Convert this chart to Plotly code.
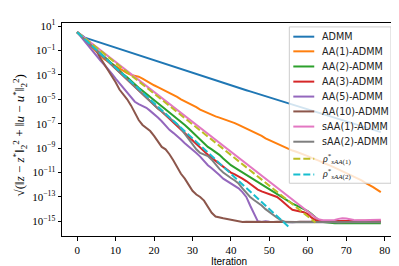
import plotly.graph_objects as go

iterations = list(range(80))

admm = [3.16, 1.78, 1.12, 8.83e-1, 6.95e-1, 5.47e-1, 4.31e-1, 3.39e-1, 2.67e-1, 2.10e-1,
        1.65e-1, 1.30e-1, 1.02e-1, 8.05e-2, 6.34e-2, 4.99e-2, 3.93e-2, 3.09e-2, 2.43e-2, 1.91e-2,
        1.51e-2, 1.19e-2, 9.33e-3, 7.35e-3, 5.78e-3, 4.55e-3, 3.58e-3, 2.82e-3, 2.22e-3, 1.75e-3,
        1.37e-3, 1.08e-3, 8.51e-4, 6.70e-4, 5.27e-4, 4.21e-4, 3.36e-4, 2.68e-4, 2.14e-4, 1.71e-4,
        1.36e-4, 1.09e-4, 8.69e-5, 6.93e-5, 5.53e-5, 4.42e-5, 3.52e-5, 2.81e-5, 2.24e-5, 1.79e-5,
        1.43e-5, 1.14e-5, 9.09e-6, 7.26e-6, 5.79e-6, 4.62e-6, 3.69e-6, 2.94e-6, 2.35e-6, 1.87e-6,
        1.49e-6, 1.19e-6, 9.52e-7, 7.60e-7, 6.06e-7, 4.84e-7, 3.86e-7, 3.08e-7, 2.46e-7, 1.96e-7,
        1.56e-7, 1.25e-7, 9.97e-8, 7.96e-8, 6.35e-8, 5.07e-8, 4.04e-8, 3.23e-8, 2.57e-8, 2.05e-8]

aa1 = [3.16, 1.41, 7.08e-1, 3.16e-1, 1.58e-1, 7.94e-2, 3.98e-2, 2.0e-2, 1.26e-2, 7.94e-3,
       5.01e-3, 3.16e-3, 2.0e-3, 1.41e-3, 1.0e-3, 8.91e-4, 7.08e-4, 5.01e-4, 3.16e-4, 2.0e-4,
       1.41e-4, 1.0e-4, 7.08e-5, 4.47e-5, 3.16e-5, 2.24e-5, 1.58e-5, 1.0e-5, 7.08e-6, 4.47e-6,
       3.16e-6, 2.24e-6, 1.41e-6, 1.0e-6, 7.08e-7, 5.01e-7, 3.98e-7, 3.16e-7, 2.51e-7, 2.0e-7,
       1.58e-7, 1.12e-7, 7.94e-8, 5.62e-8, 3.98e-8, 3.16e-8, 2.24e-8, 1.41e-8, 1.0e-8, 6.31e-9,
       4.47e-9, 3.16e-9, 2.24e-9, 1.58e-9, 1.12e-9, 7.94e-10, 6.31e-10, 5.01e-10, 3.98e-10, 3.16e-10,
       2.24e-10, 1.58e-10, 1.26e-10, 8.91e-11, 6.31e-11, 5.01e-11, 3.55e-11, 2.51e-11, 1.78e-11, 1.26e-11,
       1.0e-11, 7.08e-12, 5.01e-12, 3.55e-12, 2.24e-12, 1.41e-12, 1.0e-12, 6.31e-13, 3.98e-13, 2.51e-13]

aa2 = [3.16, 1.58, 7.94e-1, 3.98e-1, 2.24e-1, 1.12e-1, 5.62e-2, 3.16e-2, 1.58e-2, 7.94e-3,
       3.98e-3, 2.24e-3, 1.12e-3, 6.31e-4, 3.16e-4, 1.58e-4, 8.91e-5, 5.01e-5, 2.82e-5, 1.58e-5,
       7.94e-6, 4.47e-6, 2.51e-6, 1.41e-6, 7.94e-7, 4.47e-7, 2.51e-7, 1.41e-7, 7.94e-8, 3.98e-8,
       2.0e-8, 1.0e-8, 5.01e-9, 2.51e-9, 1.26e-9, 7.94e-10, 5.01e-10, 2.82e-10, 1.41e-10, 7.08e-11,
       3.98e-11, 2.51e-11, 1.58e-11, 1.0e-11, 6.31e-12, 4.47e-12, 2.82e-12, 1.78e-12, 1.12e-12, 7.08e-13,
       4.47e-13, 2.82e-13, 1.78e-13, 1.12e-13, 6.31e-14, 3.98e-14, 2.82e-14, 2.0e-14, 1.41e-14, 1.0e-14,
       7.08e-15, 3.98e-15, 2.0e-15, 1.12e-15, 8.91e-16, 7.94e-16, 7.2e-16, 6.9e-16, 7.3e-16, 7.0e-16,
       6.8e-16, 7.1e-16, 6.9e-16, 7.2e-16, 6.8e-16, 7.0e-16, 6.9e-16, 7.1e-16, 6.8e-16, 7.0e-16]

aa3 = [3.16, 1.58, 7.94e-1, 3.98e-1, 2.0e-1, 1.0e-1, 5.01e-2, 2.51e-2, 1.26e-2, 6.31e-3,
       3.16e-3, 1.58e-3, 7.94e-4, 3.98e-4, 2.0e-4, 1.0e-4, 5.01e-5, 2.51e-5, 1.26e-5, 6.31e-6,
       3.16e-6, 1.78e-6, 1.0e-6, 5.01e-7, 2.51e-7, 1.26e-7, 6.31e-8, 3.16e-8, 1.58e-8, 7.94e-9,
       3.98e-9, 2.0e-9, 1.0e-9, 5.01e-10, 2.82e-10, 1.58e-10, 8.91e-11, 5.01e-11, 3.16e-11, 1.78e-11,
       1.0e-11, 7.08e-12, 5.01e-12, 3.16e-12, 2.0e-12, 1.12e-12, 6.31e-13, 3.98e-13, 2.82e-13, 2.24e-13,
       1.78e-13, 1.41e-13, 1.0e-13, 5.62e-14, 2.82e-14, 1.58e-14, 8.91e-15, 7.08e-15, 6.31e-15, 5.62e-15,
       3.98e-15, 2.0e-15, 1.26e-15, 1.12e-15, 1.1e-15, 1.15e-15, 1.08e-15, 1.12e-15, 1.1e-15, 1.05e-15,
       1.12e-15, 1.1e-15, 1.08e-15, 1.12e-15, 1.1e-15, 1.1e-15, 1.12e-15, 1.08e-15, 1.1e-15, 1.1e-15]

aa5 = [3.16, 1.26, 5.01e-1, 2.0e-1, 7.94e-2, 3.55e-2, 1.58e-2, 7.08e-3, 3.16e-3, 1.26e-3,
       5.01e-4, 2.0e-4, 7.94e-5, 3.16e-5, 1.26e-5, 6.31e-6, 3.98e-6, 2.82e-6, 2.0e-6, 1.12e-6,
       6.31e-7, 3.16e-7, 1.58e-7, 7.08e-8, 3.16e-8, 1.78e-8, 1.0e-8, 5.01e-9, 2.51e-9, 1.41e-9,
       7.94e-10, 3.98e-10, 2.0e-10, 8.91e-11, 3.98e-11, 2.24e-11, 1.26e-11, 6.31e-12, 3.16e-12, 2.0e-12,
       1.26e-12, 7.94e-13, 5.01e-13, 2.51e-13, 1.0e-13, 2.0e-14, 3.98e-15, 1.0e-15, 8.9e-16, 1.0e-15,
       9.2e-16, 8.7e-16, 9.0e-16, 9.4e-16, 8.8e-16, 9.1e-16, 8.6e-16, 9.0e-16, 9.3e-16, 8.9e-16,
       8.7e-16, 9.1e-16, 8.8e-16, 9.0e-16, 8.5e-16, 8.9e-16, 9.2e-16, 8.8e-16, 8.6e-16, 9.0e-16,
       8.8e-16, 8.9e-16, 9.1e-16, 8.7e-16, 8.9e-16, 9.0e-16, 8.8e-16, 8.6e-16, 8.9e-16, 8.8e-16]

aa10 = [3.16, 1.78, 1.0, 5.01e-1, 2.51e-1, 1.0e-1, 2.51e-2, 7.94e-3, 3.16e-3, 1.0e-3,
        2.51e-4, 6.31e-5, 2.51e-5, 1.0e-5, 3.16e-6, 7.94e-7, 2.0e-7, 7.94e-8, 4.47e-8, 2.51e-8,
        1.0e-8, 3.16e-9, 1.26e-9, 7.94e-10, 3.16e-10, 1.0e-10, 2.82e-11, 7.94e-12, 3.16e-12, 1.0e-12,
        3.16e-13, 1.58e-13, 1.0e-13, 5.01e-14, 1.58e-14, 5.01e-15, 2.51e-15, 2.0e-15, 1.78e-15, 1.58e-15,
        1.41e-15, 1.26e-15, 1.0e-15, 8.91e-16, 9.2e-16, 9.0e-16, 9.3e-16, 8.8e-16, 9.1e-16, 8.7e-16,
        8.2e-16, 9.0e-16, 9.4e-16, 9.1e-16, 8.9e-16, 9.2e-16, 9.0e-16, 8.8e-16, 9.1e-16, 9.3e-16,
        9.0e-16, 8.9e-16, 9.2e-16, 9.0e-16, 8.8e-16, 9.1e-16, 9.0e-16, 8.9e-16, 9.2e-16, 9.0e-16,
        8.9e-16, 9.1e-16, 9.0e-16, 8.8e-16, 9.0e-16, 9.2e-16, 8.9e-16, 9.0e-16, 9.1e-16, 8.9e-16]

saa1 = [3.16, 1.80, 1.02, 5.82e-1, 3.31e-1, 1.88e-1, 1.07e-1, 6.10e-2, 3.47e-2, 1.97e-2,
        1.12e-2, 6.38e-3, 3.63e-3, 2.07e-3, 1.17e-3, 6.68e-4, 3.80e-4, 2.16e-4, 1.23e-4, 7.00e-5,
        3.98e-5, 2.26e-5, 1.29e-5, 7.33e-6, 4.17e-6, 2.37e-6, 1.35e-6, 7.67e-7, 4.37e-7, 2.48e-7,
        1.41e-7, 8.04e-8, 4.57e-8, 2.60e-8, 1.48e-8, 8.41e-9, 4.79e-9, 2.72e-9, 1.55e-9, 8.81e-10,
        5.01e-10, 2.85e-10, 1.62e-10, 9.23e-11, 5.25e-11, 2.99e-11, 1.70e-11, 9.66e-12, 5.50e-12, 3.13e-12,
        1.78e-12, 1.01e-12, 5.75e-13, 3.27e-13, 1.86e-13, 1.06e-13, 6.03e-14, 3.43e-14, 1.95e-14, 1.11e-14,
        6.31e-15, 3.59e-15, 2.04e-15, 1.41e-15, 1.26e-15, 1.22e-15, 1.2e-15, 1.3e-15, 1.6e-15, 1.8e-15,
        1.7e-15, 1.4e-15, 1.3e-15, 1.25e-15, 1.2e-15, 1.25e-15, 1.3e-15, 1.35e-15, 1.3e-15, 1.35e-15]

saa2 = [3.16, 1.58, 7.94e-1, 3.98e-1, 2.0e-1, 1.0e-1, 5.01e-2, 2.51e-2, 1.26e-2, 6.31e-3,
        3.16e-3, 1.58e-3, 7.94e-4, 3.98e-4, 2.0e-4, 1.0e-4, 5.01e-5, 2.51e-5, 1.26e-5, 6.31e-6,
        3.16e-6, 1.78e-6, 1.0e-6, 5.62e-7, 3.16e-7, 1.78e-7, 8.91e-8, 3.98e-8, 1.58e-8, 6.31e-9,
        2.51e-9, 7.94e-10, 3.98e-10, 2.82e-10, 2.24e-10, 1.12e-10, 4.47e-11, 2.0e-11, 1.0e-11, 5.62e-12,
        3.55e-12, 2.24e-12, 1.26e-12, 5.01e-13, 2.0e-13, 1.0e-13, 5.62e-14, 3.55e-14, 2.0e-14, 1.0e-14,
        5.62e-15, 3.16e-15, 2.0e-15, 1.26e-15, 8.91e-16, 8.6e-16, 8.4e-16, 8.7e-16, 8.5e-16, 8.3e-16,
        8.6e-16, 8.5e-16, 8.4e-16, 8.7e-16, 8.5e-16, 8.6e-16, 8.4e-16, 8.5e-16, 8.7e-16, 8.5e-16,
        8.4e-16, 8.6e-16, 8.5e-16, 8.5e-16, 8.7e-16, 8.4e-16, 8.6e-16, 8.5e-16, 8.4e-16, 8.6e-16]

rho_saa1_iter = [0, 62]
rho_saa1 = [3.16, 7.94e-16]
rho_saa2_iter = [0, 55]
rho_saa2 = [3.16, 3.55e-16]

series_names = ["ADMM", "AA(1)-ADMM", "AA(2)-ADMM", "AA(3)-ADMM", "AA(5)-ADMM",
                "AA(10)-ADMM", "sAA(1)-ADMM", "sAA(2)-ADMM"]
rho_names = ["<i>ρ</i><sup>*</sup><sub><i>sAA</i>(1)</sub>",
             "<i>ρ</i><sup>*</sup><sub><i>sAA</i>(2)</sub>"]

x_ticks = [0, 10, 20, 30, 40, 50, 60, 70, 80]
y_tickvals = [1e1, 1e-1, 1e-3, 1e-5, 1e-7, 1e-9, 1e-11, 1e-13, 1e-15]
y_ticktext = ["10<sup>1</sup>", "10<sup>−1</sup>", "10<sup>−3</sup>", "10<sup>−5</sup>",
              "10<sup>−7</sup>", "10<sup>−9</sup>", "10<sup>−11</sup>", "10<sup>−13</sup>",
              "10<sup>−15</sup>"]

colors = ["#1f77b4", "#ff7f0e", "#2ca02c", "#d62728", "#9467bd",
          "#8c564b", "#e377c2", "#7f7f7f", "#bcbd22", "#17becf"]
DASH = "7px,3px"

W, H = 399, 266
ML, MR, MT, MB = 54, 10, 10, 38
PW, PH = W - ML - MR, H - MT - MB


def px_x(x):
    return (x - ML) / PW


def px_y(y):
    return (H - MB - y) / PH


fig = go.Figure()
for name, vals, col in zip(series_names, [admm, aa1, aa2, aa3, aa5, aa10, saa1, saa2], colors):
    fig.add_trace(go.Scatter(x=iterations, y=vals, mode="lines", name=name, showlegend=False,
                             line=dict(color=col, width=2)))
fig.add_trace(go.Scatter(x=rho_saa1_iter, y=rho_saa1, mode="lines", name=rho_names[0],
                         showlegend=False, line=dict(color=colors[8], width=2, dash=DASH)))
fig.add_trace(go.Scatter(x=rho_saa2_iter, y=rho_saa2, mode="lines", name=rho_names[1],
                         showlegend=False, line=dict(color=colors[9], width=2, dash=DASH)))

# manual legend (matplotlib style)
shapes = [dict(type="rect", xref="paper", yref="paper",
               x0=px_x(282), x1=px_x(384), y0=px_y(174), y1=px_y(14),
               line=dict(color="#cccccc", width=1), fillcolor="rgba(255,255,255,0.8)",
               layer="above")]
annotations = []
row_y = [24, 39, 54.5, 70, 85.3, 100.5, 116, 131.5, 149, 165]
labels = series_names + rho_names
for k, (lab, yy) in enumerate(zip(labels, row_y)):
    dash = DASH if k >= 8 else "solid"
    shapes.append(dict(type="line", xref="paper", yref="paper",
                       x0=px_x(286), x1=px_x(307), y0=px_y(yy), y1=px_y(yy),
                       line=dict(color=colors[k], width=2, dash=dash), layer="above"))
    if k < 8:
        font = dict(family="DejaVu Sans, sans-serif", size=9.6, color="#222")
    else:
        font = dict(family="Liberation Serif, DejaVu Serif, serif", size=10, color="#222")
    annotations.append(dict(xref="paper", yref="paper", x=px_x(313), y=px_y(yy),
                            xanchor="left", yanchor="middle", text=lab, showarrow=False,
                            font=font))

annotations.append(dict(xref="paper", yref="paper", x=px_x(221), y=px_y(254),
                        xanchor="center", yanchor="middle", text="Iteration", showarrow=False,
                        font=dict(family="Liberation Sans, sans-serif", size=10, color="black")))
annotations.append(dict(xref="paper", yref="paper", x=px_x(12), y=px_y(125), textangle=-90,
                        xanchor="center", yanchor="middle", showarrow=False,
                        text="√(‖<i>z</i> − <i>z</i><sup>*</sup>‖<sub>2</sub><sup>2</sup> + ‖<i>u</i> − <i>u</i><sup>*</sup>‖<sub>2</sub><sup>2</sup>)",
                        font=dict(family="Liberation Serif, DejaVu Serif, serif", size=13, color="black")))

tick_font = dict(family="Liberation Serif, DejaVu Serif, serif", size=11, color="black")

fig.update_layout(
    width=W, height=H,
    margin=dict(l=ML, r=MR, t=MT, b=MB),
    plot_bgcolor="white", paper_bgcolor="white",
    showlegend=False,
    shapes=shapes, annotations=annotations,
    xaxis=dict(range=[-3.95, 82.95], tickmode="array", tickvals=x_ticks,
               showgrid=False, zeroline=False, showline=True, linecolor="black",
               linewidth=1, mirror=True, ticks="outside", ticklen=3.5, tickwidth=0.8,
               tickcolor="black", tickfont=tick_font),
    yaxis=dict(type="log", range=[-16.2, 1.25], tickmode="array", tickvals=y_tickvals,
               ticktext=y_ticktext, showgrid=False, zeroline=False, showline=True,
               linecolor="black", linewidth=1, mirror=True, ticks="outside", ticklen=3.5,
               tickwidth=0.8, tickcolor="black", tickfont=tick_font),
)

fig.write_html("out.html")
